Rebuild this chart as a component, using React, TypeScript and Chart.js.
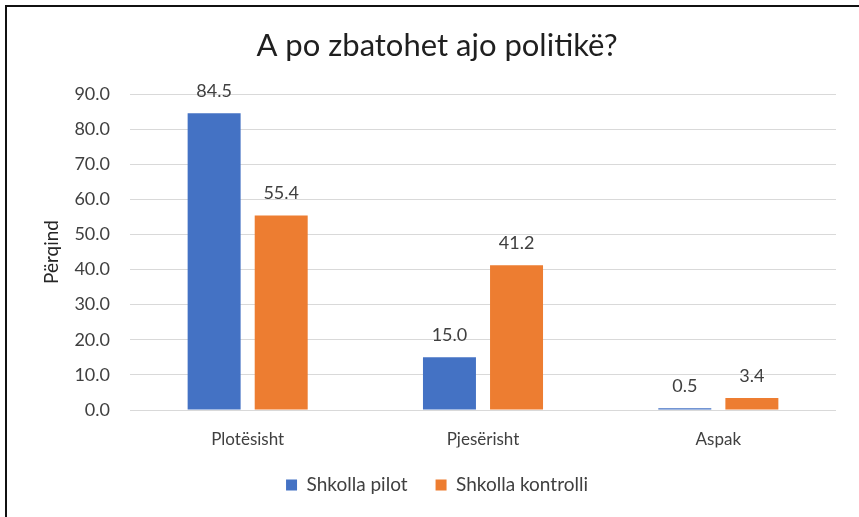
import React, { useEffect, useRef } from "react";
import { Chart, registerables } from "chart.js";

Chart.register(...registerables);

const categories = ["Plotësisht", "Pjesërisht", "Aspak"];
const pilotValues = [84.5, 15.0, 0.5];
const kontrolliValues = [55.4, 41.2, 3.4];
const seriesNames = ["Shkolla pilot", "Shkolla kontrolli"];
const chartTitle = "A po zbatohet ajo politikë?";
const yAxisTitle = "Përqind";
const yMin = 0;
const yMax = 90;
const yStep = 10;

const FONT = "Lato, 'Open Sans', sans-serif";
const TEXT = "#404040";

const dataLabelPlugin = {
  id: "dataLabels",
  afterDatasetsDraw(chart: any) {
    const ctx = chart.ctx;
    ctx.save();
    ctx.font = `18px ${FONT}`;
    ctx.fillStyle = TEXT;
    ctx.textAlign = "center";
    ctx.textBaseline = "middle";
    chart.data.datasets.forEach((ds: any, i: number) => {
      const meta = chart.getDatasetMeta(i);
      meta.data.forEach((bar: any, j: number) => {
        const v = ds.data[j] as number;
        ctx.fillText(v.toFixed(1), bar.x, bar.y - 22);
      });
    });
    ctx.restore();
  },
};

export default function App() {
  const ref = useRef<HTMLCanvasElement | null>(null);

  useEffect(() => {
    document.body.style.margin = "0";
    const canvas = ref.current;
    if (!canvas) return;
    const chart = new Chart(canvas, {
      type: "bar",
      data: {
        labels: categories,
        datasets: [
          {
            label: seriesNames[0],
            data: pilotValues,
            backgroundColor: "#4472C4",
            categoryPercentage: 0.57,
            barPercentage: 0.79,
          },
          {
            label: seriesNames[1],
            data: kontrolliValues,
            backgroundColor: "#ED7D31",
            categoryPercentage: 0.57,
            barPercentage: 0.79,
          },
        ],
      },
      options: {
        responsive: false,
        animation: false,
        layout: { padding: { left: 38, right: 23, top: 17, bottom: 12.5 } },
        plugins: {
          title: {
            display: true,
            text: chartTitle,
            color: "#1f1f1f",
            font: { family: FONT, size: 31, weight: "normal", lineHeight: 1.2 },
            padding: { top: 10.4, bottom: 29.4 },
          },
          legend: {
            position: "bottom",
            labels: {
              boxWidth: 11,
              boxHeight: 11,
              padding: 28,
              color: TEXT,
              font: { family: FONT, size: 19 },
            },
          },
          tooltip: { enabled: false },
        },
        scales: {
          x: {
            grid: { display: false, drawTicks: false },
            border: { display: false },
            ticks: {
              color: TEXT,
              padding: 19,
              font: { family: FONT, size: 17 },
            },
            afterFit: (scale: any) => {
              scale.height = 37.5;
            },
          },
          y: {
            min: yMin,
            max: yMax,
            grid: { color: "#D9D9D9", lineWidth: 1, drawTicks: false },
            border: { display: false },
            ticks: {
              stepSize: yStep,
              color: TEXT,
              padding: 20,
              font: { family: FONT, size: 18 },
              callback: (v: any) => Number(v).toFixed(1),
            },
            title: {
              display: true,
              text: yAxisTitle,
              color: "#262626",
              font: { family: FONT, size: 19, lineHeight: 1.2 },
              padding: { top: 2.6, bottom: 0 },
            },
            afterFit: (scale: any) => {
              scale.width = 92;
            },
          },
        },
      },
      plugins: [dataLabelPlugin],
    });
    return () => chart.destroy();
  }, []);

  return (
    <div
      style={{
        position: "fixed",
        left: 0,
        top: 0,
        width: 859,
        height: 517,
        background: "#fff",
      }}
    >
      <canvas ref={ref} width={859} height={517} style={{ width: 859, height: 517, display: "block" }} />
      <div
        style={{
          position: "absolute",
          left: 5,
          top: 5,
          width: 900,
          height: 600,
          borderTop: "2px solid #111",
          borderLeft: "2px solid #111",
          pointerEvents: "none",
        }}
      />
    </div>
  );
}
